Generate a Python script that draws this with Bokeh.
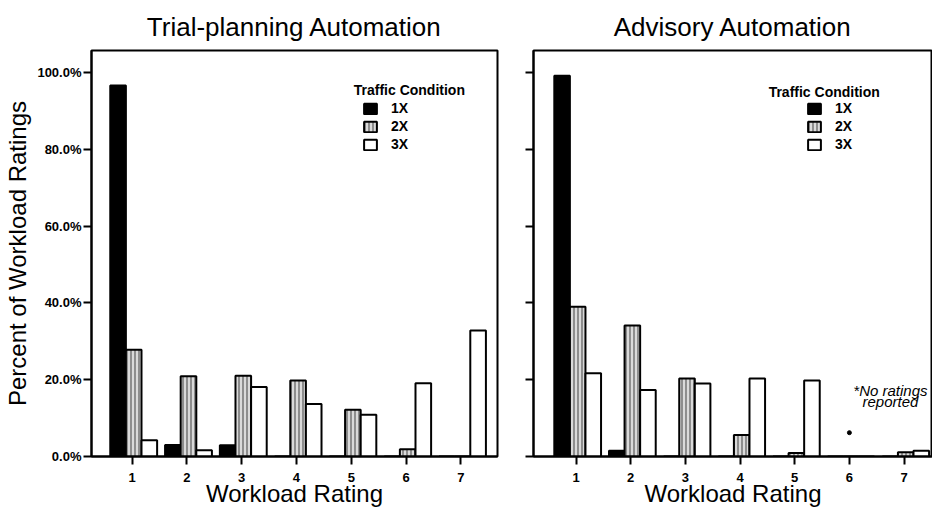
from bokeh.plotting import figure
from bokeh.layouts import row
from bokeh.models import (ColumnDataSource, FixedTicker, PrintfTickFormatter, Legend,
                          LegendItem, Label, Range1d)
from bokeh.transform import dodge
from bokeh.embed import file_html
from bokeh.resources import INLINE

# ---------------- data ----------------
ratings = [1, 2, 3, 4, 5, 6, 7]
conditions = ["1X", "2X", "3X"]
y_ticks = [0, 20, 40, 60, 80, 100]

trial_1x = [96.6, 3.0, 2.9, 0.0, 0.0, 0.0, 0.0]
trial_2x = [27.8, 20.9, 21.0, 19.8, 12.2, 1.9, 0.0]
trial_3x = [4.2, 1.6, 18.1, 13.7, 10.9, 19.1, 32.8]

advisory_1x = [99.1, 1.5, 0.0, 0.0, 0.0, 0.0, 0.0]
advisory_2x = [39.0, 34.1, 20.3, 5.6, 0.9, 0.0, 1.1]
advisory_3x = [21.7, 17.3, 19.0, 20.3, 19.8, 0.0, 1.5]

note_x = [6]
note_y = [6.2]
note_lines = ["*No ratings", "reported"]

FONT = "Liberation Sans"
INK = "black"
FRAME_H = 406
TOP = 50
BOTTOM = 54


def make_panel(title, v1, v2, v3, x_start, x_end, frame_w, left_border, right_border,
               show_y_labels, legend_x, legend_title_pos):
    src = ColumnDataSource(dict(x=ratings, c1=v1, c2=v2, c3=v3))
    p = figure(frame_width=frame_w, frame_height=FRAME_H,
               x_range=Range1d(x_start, x_end), y_range=Range1d(0, 105.7),
               output_backend="svg", toolbar_location=None,
               min_border_top=TOP, min_border_bottom=BOTTOM,
               min_border_left=left_border, min_border_right=right_border,
               background_fill_color="white", border_fill_color="white")
    p.title.text = title
    p.title.text_font = FONT
    p.title.text_font_size = "26px"
    p.title.text_font_style = "normal"
    p.title.text_color = INK
    p.title.align = "center"
    p.title.standoff = 17

    p.xgrid.visible = False
    p.ygrid.visible = False
    p.outline_line_color = INK
    p.outline_line_width = 2
    p.outline_line_alpha = 1

    w = 0.285
    r1 = p.vbar(x=dodge("x", -0.255, range=p.x_range), top="c1", width=w, source=src,
                fill_color="black", line_color="black", line_width=2)
    r2 = p.vbar(x=dodge("x", 0.03, range=p.x_range), top="c2", width=w, source=src,
                fill_color="#dadada", line_color="black", line_width=2,
                hatch_pattern="vertical_line", hatch_color="#5a5a5a",
                hatch_scale=4, hatch_weight=1.2)
    r3 = p.vbar(x=dodge("x", 0.315, range=p.x_range), top="c3", width=w, source=src,
                fill_color="white", line_color="black", line_width=2)

    # x axis
    xa = p.xaxis[0]
    xa.ticker = FixedTicker(ticks=ratings)
    xa.axis_label = "Workload Rating"
    xa.axis_label_text_font = FONT
    xa.axis_label_text_font_size = "24px"
    xa.axis_label_text_font_style = "normal"
    xa.axis_label_text_color = INK
    xa.axis_label_standoff = -5
    xa.major_label_text_font = FONT
    xa.major_label_text_font_size = "13px"
    xa.major_label_text_font_style = "bold"
    xa.major_label_text_color = INK
    xa.major_label_standoff = 8
    xa.axis_line_width = 2
    xa.axis_line_color = INK
    xa.major_tick_out = 8
    xa.major_tick_in = 0
    xa.major_tick_line_width = 2
    xa.major_tick_line_color = INK
    xa.minor_tick_line_color = None

    # y axis
    ya = p.yaxis[0]
    ya.ticker = FixedTicker(ticks=y_ticks)
    ya.formatter = PrintfTickFormatter(format="%.1f%%")
    ya.major_label_text_font = FONT
    ya.major_label_text_font_size = "13px"
    ya.major_label_text_font_style = "bold"
    ya.major_label_text_color = INK
    ya.major_label_standoff = 2
    ya.axis_line_width = 2
    ya.axis_line_color = INK
    ya.major_tick_out = 8
    ya.major_tick_in = 0
    ya.major_tick_line_width = 2
    ya.major_tick_line_color = INK
    ya.minor_tick_line_color = None
    if show_y_labels:
        ya.axis_label = "Percent of Workload Ratings"
        ya.axis_label_text_font = FONT
        ya.axis_label_text_font_size = "24px"
        ya.axis_label_text_font_style = "normal"
        ya.axis_label_text_color = INK
        ya.axis_label_standoff = 3
    else:
        ya.major_label_overrides = {t: "" for t in y_ticks}

    items = [LegendItem(label=c, renderers=[r]) for c, r in zip(conditions, [r1, r2, r3])]
    leg = Legend(items=items, location=(legend_x, FRAME_H - 102),
                 glyph_width=16, glyph_height=13, label_height=16, spacing=2,
                 label_standoff=13, padding=0, margin=0,
                 border_line_color=None, background_fill_alpha=0,
                 label_text_font=FONT, label_text_font_size="14px",
                 label_text_font_style="bold", label_text_color=INK)
    p.add_layout(leg)
    p.add_layout(Label(x=legend_title_pos[0], y=legend_title_pos[1], text="Traffic Condition",
                       text_font=FONT, text_font_size="14px", text_font_style="bold",
                       text_color=INK, text_align="center", text_baseline="middle"))
    return p


left = make_panel("Trial-planning Automation", trial_1x, trial_2x, trial_3x,
                  0.26, 7.669, 406, 91, 10, True, 271, (6.06, 95.3))
right = make_panel("Advisory Automation", advisory_1x, advisory_2x, advisory_3x,
                   0.222, 7.52, 399, 26, 0, False, 273, (5.54, 94.9))

right.scatter(x=note_x, y=note_y, size=4, color="black")
right.add_layout(Label(x=6.75, y=17.3, text=note_lines[0], text_font=FONT,
                       text_font_size="15px", text_font_style="italic", text_color=INK,
                       text_align="center", text_baseline="middle"))
right.add_layout(Label(x=6.75, y=14.3, text=note_lines[1], text_font=FONT,
                       text_font_size="15px", text_font_style="italic", text_color=INK,
                       text_align="center", text_baseline="middle"))

p = row(left, right)
open("out.html", "w").write(file_html(p, INLINE))
